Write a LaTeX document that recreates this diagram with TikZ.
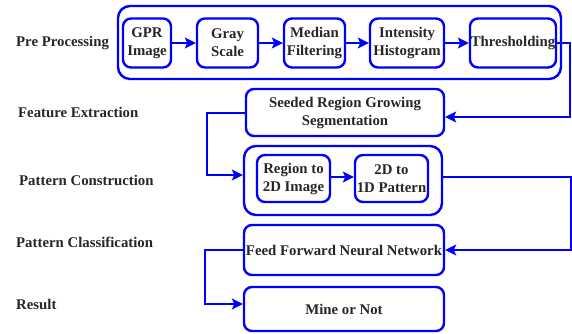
\documentclass[tikz,border=0pt]{standalone}
\usepackage{fontspec}
\setmainfont{Liberation Serif}
\usetikzlibrary{arrows.meta}
\definecolor{lineblue}{RGB}{0,0,255}
\begin{document}
\begin{tikzpicture}[x=1pt,y=-1pt,
  box/.style={draw=lineblue, line width=2.4pt, rounded corners=8pt, align=center, inner sep=0pt,
    font=\fontsize{14.8}{18}\selectfont\bfseries, text=black!85},
  outer/.style={draw=lineblue, line width=2.4pt, rounded corners=12pt, inner sep=0pt},
  lbl/.style={anchor=west, inner sep=0pt, font=\fontsize{14.8}{18}\selectfont\bfseries, text=black!85},
  conn/.style={draw=lineblue, line width=2pt, -{Stealth[length=11pt,width=11pt,inset=2.5pt]}}]
\useasboundingbox (0,0) rectangle (572,334);
% outer boxes
\node[outer, minimum width=443, minimum height=73] (pre) at (339.5,42.5) {};
\node[outer, minimum width=198, minimum height=69] (pc) at (343,180.5) {};
% pre-processing steps
\node[box, minimum width=48, minimum height=49] (gpr) at (147,43) {GPR\\Image};
\node[box, minimum width=61, minimum height=49] (gray) at (227.5,43) {Gray\\Scale};
\node[box, minimum width=61, minimum height=49] (median) at (314.5,43) {Median\\Filtering};
\node[box, minimum width=74, minimum height=49] (intens) at (407,43) {Intensity\\Histogram};
\node[box, minimum width=86, minimum height=49] (thresh) at (513,43) {Thresholding};
% others
\node[box, minimum width=198, minimum height=47] (seeded) at (345,112.5) {Seeded Region Growing\\Segmentation};
\node[box, minimum width=73, minimum height=47] (region) at (293.5,178.5) {Region to\\2D Image};
\node[box, minimum width=73, minimum height=47] (oned) at (391.5,178.5) {2D to\\1D Pattern};
\node[box, minimum width=200, minimum height=50] (ffnn) at (344,250) {Feed Forward Neural Network};
\node[box, minimum width=200, minimum height=44] (mine) at (344,309) {Mine or Not};
% labels
\node[lbl] (l1) at (16,43) {Pre Processing};
\node[lbl] (l2) at (18,112) {Feature Extraction};
\node[lbl] (l3) at (19,180) {Pattern Construction};
\node[lbl] (l4) at (16,242) {Pattern Classification};
\node[lbl] (l5) at (16,304) {Result};
% connectors
\draw[conn] (gpr) -- (gray);
\draw[conn] (gray) -- (median);
\draw[conn] (median) -- (intens);
\draw[conn] (intens) -- (thresh);
\draw[conn] (region.east |- 0,177) -- (oned.west |- 0,177);
\coordinate (c1) at (570,117);
\draw[conn] (thresh.east) -| (c1) -- (seeded.east |- c1);
\coordinate (c2) at (207,175);
\draw[conn] (seeded.west) -| (c2) -- (pc.west |- c2);
\coordinate (c3) at (571,177);
\draw[conn] (pc.east |- c3) -- (c3) |- (ffnn.east);
\coordinate (c4) at (205,304);
\draw[conn] (ffnn.west) -| (c4) -- (mine.west |- c4);
\end{tikzpicture}
\end{document}
